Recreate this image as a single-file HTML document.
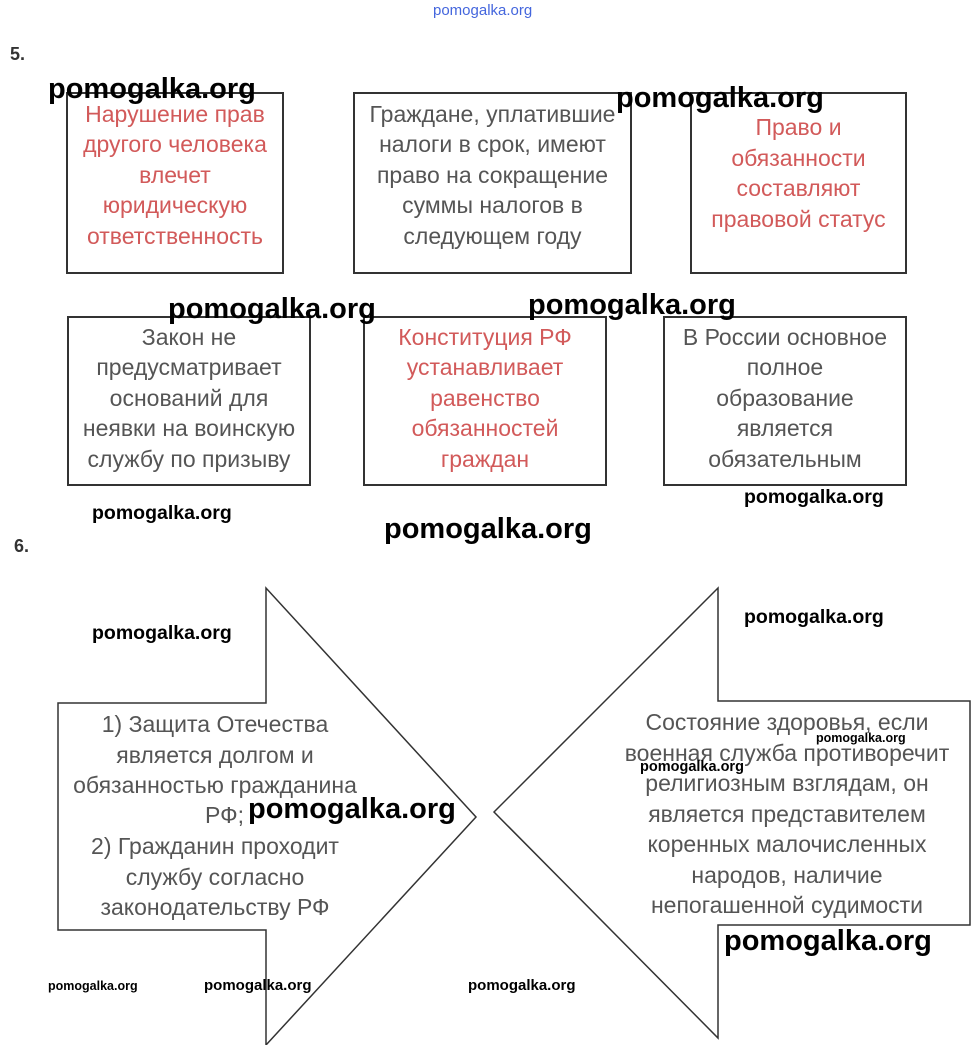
<!DOCTYPE html>
<html><head><meta charset="utf-8"><style>
body{margin:0;width:980px;height:1045px;background:#fff;position:relative;overflow:hidden;font-family:"Liberation Sans","Noto Sans CJK SC",sans-serif}
.b{position:absolute;border:2px solid #333;box-sizing:border-box;display:flex;align-items:center;justify-content:center;text-align:center;font-size:23px;line-height:30.5px;color:#555;white-space:nowrap}
.r{color:#d25a5a}
.w{position:absolute;font-weight:bold;color:#000;white-space:nowrap;font-family:"Liberation Sans",sans-serif}
.t{position:absolute;text-align:center;font-size:23px;line-height:30.5px;color:#555;white-space:nowrap}
</style></head><body>
<div style="position:absolute;left:433px;top:2px;font-size:15px;color:#4466dd">pomogalka.org</div>
<div style="position:absolute;left:10px;top:44px;font-size:18px;font-weight:bold;color:#333">5.</div>
<div style="position:absolute;left:14px;top:536px;font-size:18px;font-weight:bold;color:#333">6.</div>

<div class="b r" style="left:66px;top:92px;width:218px;height:182px;padding-bottom:16px">Нарушение прав<br>другого человека<br>влечет<br>юридическую<br>ответственность</div>
<div class="b" style="left:353px;top:92px;width:279px;height:182px;padding-bottom:16px">Граждане, уплатившие<br>налоги в срок, имеют<br>право на сокращение<br>суммы налогов в<br>следующем году</div>
<div class="b r" style="left:690px;top:92px;width:217px;height:182px;padding-bottom:20px">Право и<br>обязанности<br>составляют<br>правовой статус</div>

<div class="b" style="left:67px;top:316px;width:244px;height:170px;padding-bottom:6px">Закон не<br>предусматривает<br>оснований для<br>неявки на воинскую<br>службу по призыву</div>
<div class="b r" style="left:363px;top:316px;width:244px;height:170px;padding-bottom:6px">Конституция РФ<br>устанавливает<br>равенство<br>обязанностей<br>граждан</div>
<div class="b" style="left:663px;top:316px;width:244px;height:170px;padding-bottom:6px">В России основное<br>полное<br>образование<br>является<br>обязательным</div>

<svg style="position:absolute;left:0;top:0" width="980" height="1045">
<polygon points="58,703 266,703 266,588 476,817 266,1045 266,930 58,930" fill="none" stroke="#333" stroke-width="1.5"/>
<polygon points="494,812 718,588 718,701 970,701 970,925 718,925 718,1038" fill="none" stroke="#333" stroke-width="1.5"/>
</svg>
<div class="t" style="left:45px;top:709px;width:340px">1) Защита Отечества<br>является долгом и<br>обязанностью гражданина</div>
<div class="t" style="left:205px;top:800px">РФ;</div>
<div class="t" style="left:45px;top:831px;width:340px">2) Гражданин проходит<br>службу согласно<br>законодательству РФ</div>
<div class="t" style="left:617px;top:707px;width:340px">Состояние здоровья, если<br>военная служба противоречит<br>религиозным взглядам, он<br>является представителем<br>коренных малочисленных<br>народов, наличие<br>непогашенной судимости</div>

<div class="w" style="left:48px;top:73px;font-size:29px">pomogalka.org</div>
<div class="w" style="left:616px;top:82px;font-size:29px">pomogalka.org</div>
<div class="w" style="left:168px;top:293px;font-size:29px">pomogalka.org</div>
<div class="w" style="left:528px;top:289px;font-size:29px">pomogalka.org</div>
<div class="w" style="left:92px;top:502px;font-size:19.5px">pomogalka.org</div>
<div class="w" style="left:744px;top:486px;font-size:19.5px">pomogalka.org</div>
<div class="w" style="left:384px;top:513px;font-size:29px">pomogalka.org</div>
<div class="w" style="left:92px;top:622px;font-size:19.5px">pomogalka.org</div>
<div class="w" style="left:744px;top:606px;font-size:19.5px">pomogalka.org</div>
<div class="w" style="left:248px;top:793px;font-size:29px">pomogalka.org</div>
<div class="w" style="left:816px;top:731px;font-size:12.5px">pomogalka.org</div>
<div class="w" style="left:640px;top:759px;font-size:14.5px">pomogalka.org</div>
<div class="w" style="left:724px;top:925px;font-size:29px">pomogalka.org</div>
<div class="w" style="left:48px;top:979px;font-size:12.5px">pomogalka.org</div>
<div class="w" style="left:204px;top:977px;font-size:15px">pomogalka.org</div>
<div class="w" style="left:468px;top:977px;font-size:15px">pomogalka.org</div>
</body></html>
